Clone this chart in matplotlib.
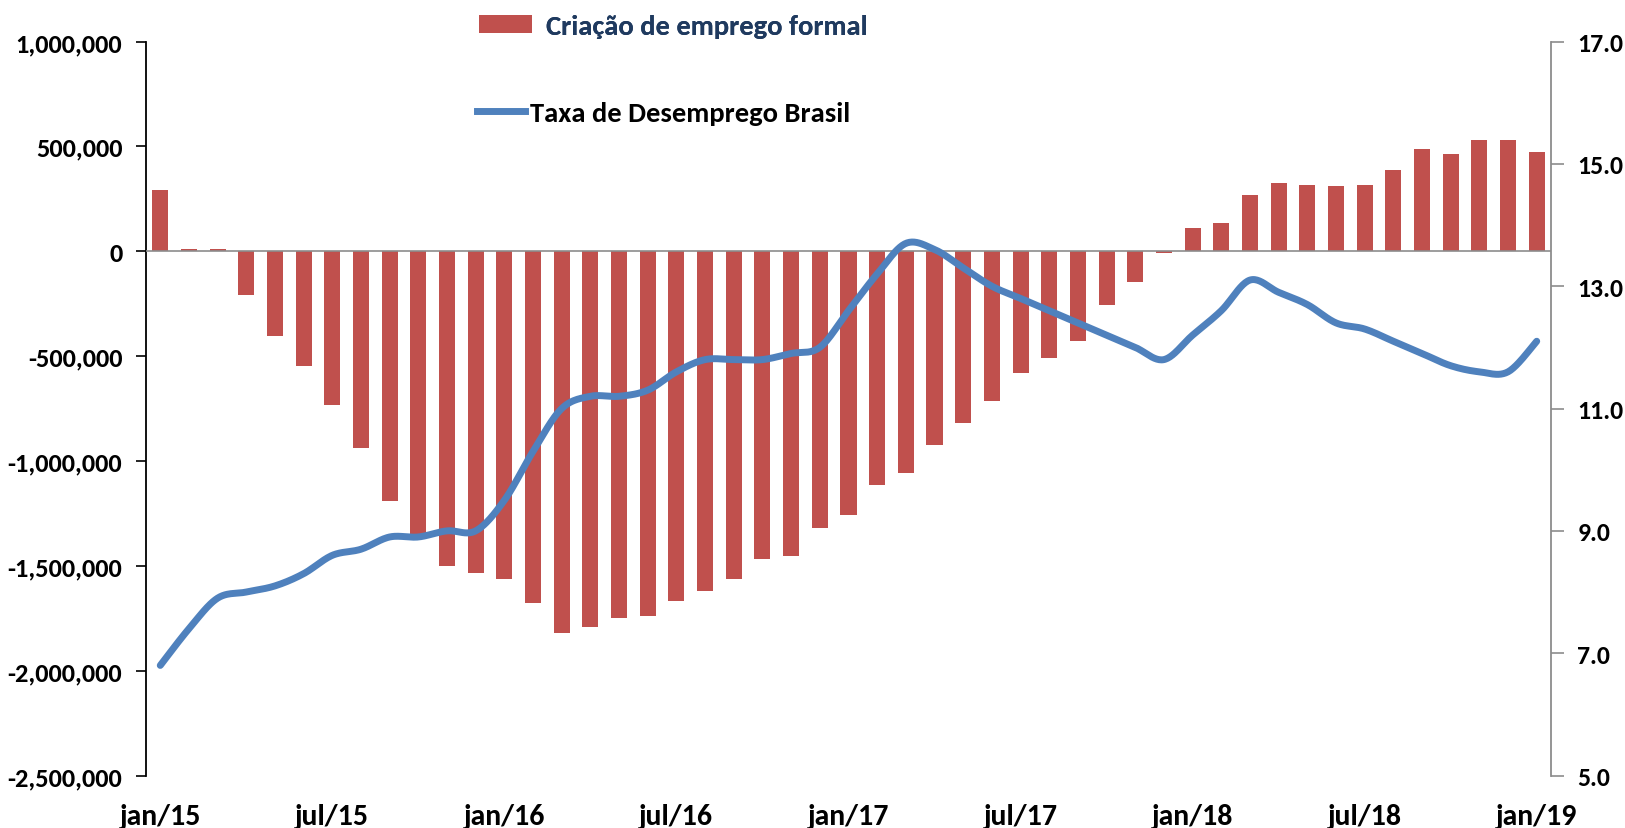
import numpy as np
import matplotlib
matplotlib.use("Agg")
import matplotlib.pyplot as plt
from matplotlib import font_manager as fm
from matplotlib.ticker import FuncFormatter, FixedLocator
from matplotlib.patches import Patch
from matplotlib.lines import Line2D

# ---------------- data ----------------
months = list(range(49))  # jan/15 .. jan/19
tick_pos = [0, 6, 12, 18, 24, 30, 36, 42, 48]
tick_labels = ["jan/15", "jul/15", "jan/16", "jul/16", "jan/17",
               "jul/17", "jan/18", "jul/18", "jan/19"]

# Criação de emprego formal (acumulado 12 meses)
jobs = [293000, 12000, 12000, -210000, -405000, -549000, -732000, -938000,
        -1192000, -1350000, -1500000, -1535000, -1565000, -1675000, -1821000,
        -1790000, -1748000, -1741000, -1670000, -1622000, -1563000, -1469000,
        -1455000, -1318000, -1260000, -1114000, -1059000, -926000, -818000,
        -714000, -581000, -508000, -429000, -256000, -148000, -8000, 112000,
        136000, 270000, 324000, 317000, 313000, 317000, 386000, 489000,
        465000, 532000, 532000, 471000]

# Taxa de desemprego Brasil (%)
unemp = [6.8, 7.4, 7.9, 8.0, 8.1, 8.3, 8.6, 8.7, 8.9, 8.9, 9.0, 9.0,
         9.5, 10.3, 11.0, 11.2, 11.2, 11.3, 11.6, 11.8, 11.8, 11.8, 11.9, 12.0,
         12.6, 13.2, 13.7, 13.6, 13.3, 13.0, 12.8, 12.6, 12.4, 12.2, 12.0, 11.8,
         12.2, 12.6, 13.1, 12.9, 12.7, 12.4, 12.3, 12.1, 11.9, 11.7, 11.6, 11.6,
         12.1]

left_ticks = [1000000, 500000, 0, -500000, -1000000, -1500000, -2000000, -2500000]
right_ticks = [17.0, 15.0, 13.0, 11.0, 9.0, 7.0, 5.0]

label_bar = "Criação de emprego formal"
label_line = "Taxa de Desemprego Brasil"

# ---------------- fonts ----------------
def pick(cands):
    for c in cands:
        try:
            fm.findfont(fm.FontProperties(family=c), fallback_to_default=False)
            return c
        except Exception:
            pass
    return "DejaVu Sans"

FONT = pick(["Carlito", "Liberation Sans Narrow", "Open Sans", "Liberation Sans"])
plt.rcParams["font.family"] = [FONT, "DejaVu Sans"]
plt.rcParams["font.weight"] = "bold"

BAR_C = "#C0504D"
LINE_C = "#4F81BD"
GRAY = "#8C8C8C"

# ---------------- smoothing (Excel-like) ----------------
def smooth(x, y, n=24):
    x = np.asarray(x, float)
    y = np.asarray(y, float)
    px = np.concatenate([[x[0]], x, [x[-1]]])
    py = np.concatenate([[y[0]], y, [y[-1]]])
    xs, ys = [], []
    t = np.linspace(0, 1, n, endpoint=False)
    for i in range(1, len(px) - 2):
        p0 = np.array([px[i], py[i]])
        p3 = np.array([px[i + 1], py[i + 1]])
        c1 = p0 + (p3 - np.array([px[i - 1], py[i - 1]])) / 6.0
        c2 = p3 - (np.array([px[i + 2], py[i + 2]]) - p0) / 6.0
        b = ((1 - t) ** 3)[:, None] * p0 + (3 * (1 - t) ** 2 * t)[:, None] * c1 \
            + (3 * (1 - t) * t ** 2)[:, None] * c2 + (t ** 3)[:, None] * p3
        xs.append(b[:, 0]); ys.append(b[:, 1])
    xs.append([x[-1]]); ys.append([y[-1]])
    return np.concatenate(xs), np.concatenate(ys)

# ---------------- figure ----------------
fig = plt.figure(figsize=(16.25, 8.29), dpi=100)
ax = fig.add_axes([0.0898, 0.0633, 0.8647, 0.8854])

ax.bar(months, jobs, width=0.56, color=BAR_C, zorder=2)
ax.axhline(0, color=GRAY, lw=1.2, zorder=3)
ax.set_xlim(-0.5, 48.5)
ax.set_ylim(-2500000, 1000000)
ax.yaxis.set_major_locator(FixedLocator(left_ticks))
ax.yaxis.set_major_formatter(FuncFormatter(lambda v, p: f"{int(v):,}"))
ax.set_xticks(tick_pos)
ax.set_xticklabels(tick_labels)

for s in ["top", "bottom", "right"]:
    ax.spines[s].set_visible(False)
ax.spines["left"].set_color("black")
ax.spines["left"].set_linewidth(1.3)
ax.tick_params(axis="y", direction="out", length=7, width=1.2, colors="black",
               labelsize=19, pad=10)
ax.tick_params(axis="x", length=0, labelsize=21.5, pad=20)

ax2 = ax.twinx()
xs, ys = smooth(months, unemp)
ax2.plot(xs, ys, color=LINE_C, lw=5, solid_capstyle="round", zorder=4)
ax2.set_ylim(5, 17)
ax2.yaxis.set_major_locator(FixedLocator(right_ticks))
ax2.yaxis.set_major_formatter(FuncFormatter(lambda v, p: f"{v:.1f}"))
for s in ["top", "bottom", "left"]:
    ax2.spines[s].set_visible(False)
ax2.spines["right"].set_color(GRAY)
ax2.spines["right"].set_linewidth(1.3)
ax2.tick_params(axis="y", direction="out", length=9, width=1.2, color=GRAY,
                labelcolor="black", labelsize=18.5, pad=10)

for lab in ax.get_yticklabels() + ax.get_xticklabels() + ax2.get_yticklabels():
    lab.set_fontweight("bold")

# ---------------- legends ----------------
fs_leg = 20.5
leg1 = fig.legend(handles=[Patch(facecolor=BAR_C, edgecolor="none")],
                  labels=[label_bar], loc="center left",
                  bbox_to_anchor=(479 / 1625, 1 - 27 / 829), frameon=False,
                  borderpad=0, borderaxespad=0, handlelength=1.85,
                  handleheight=0.55, handletextpad=0.5,
                  prop={"size": fs_leg, "weight": "bold"}, labelcolor="#1F3A5F")
leg2 = fig.legend(handles=[Line2D([0], [0], color=LINE_C, lw=5)],
                  labels=[label_line], loc="center left",
                  bbox_to_anchor=(477 / 1625, 1 - 114 / 829), frameon=False,
                  borderpad=0, borderaxespad=0, handlelength=1.7,
                  handletextpad=0.15,
                  prop={"size": fs_leg, "weight": "bold"}, labelcolor="black")
fig.add_artist(leg1)

fig.savefig("out.png", dpi=100, facecolor="white")
